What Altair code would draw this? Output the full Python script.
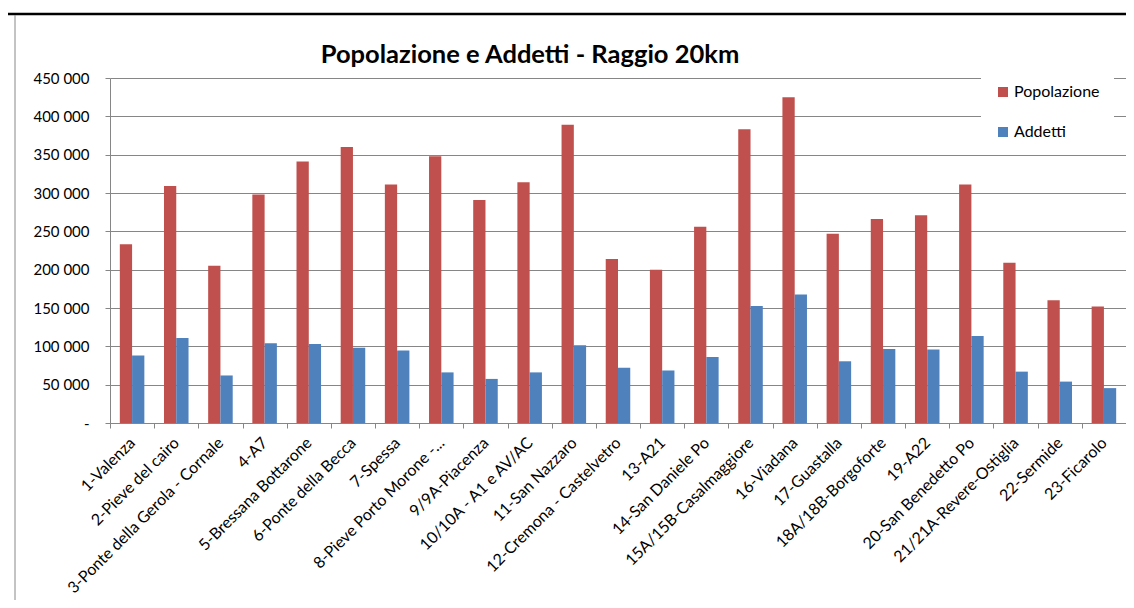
import altair as alt
import pandas as pd

categorie = [
    "1-Valenza", "2-Pieve del cairo", "3-Ponte della Gerola - Cornale", "4-A7",
    "5-Bressana Bottarone", "6-Ponte della Becca", "7-Spessa", "8-Pieve Porto Morone -...",
    "9/9A-Piacenza", "10/10A - A1 e AV/AC", "11-San Nazzaro", "12-Cremona - Castelvetro",
    "13-A21", "14-San Daniele Po", "15A/15B-Casalmaggiore", "16-Viadana", "17-Guastalla",
    "18A/18B-Borgoforte", "19-A22", "20-San Benedetto Po", "21/21A-Revere-Ostiglia",
    "22-Sermide", "23-Ficarolo",
]
popolazione = [233000, 309000, 205000, 298000, 341000, 360000, 311000, 348000,
               291000, 314000, 389000, 214000, 200000, 256000, 383000, 425000,
               247000, 266000, 271000, 311000, 209000, 160000, 152000]
addetti = [88000, 111000, 62000, 104000, 103000, 98000, 94500, 66000,
           57500, 66000, 101500, 72000, 68500, 86000, 152500, 167500,
           80500, 96500, 96000, 113500, 67000, 54000, 45500]
serie = ["Popolazione", "Addetti"]
colori = ["#C0504D", "#4F81BD"]
titolo = "Popolazione e Addetti - Raggio 20km"

rows = []
for c, p, a in zip(categorie, popolazione, addetti):
    rows.append({"cat": c, "serie": serie[0], "val": p})
    rows.append({"cat": c, "serie": serie[1], "val": a})
df = pd.DataFrame(rows)

NBSP = "\u00a0"
ylabel = ("datum.value == 0 ? '-" + NBSP * 3 + "' : "
          "replace(format(datum.value, ','), regexp(',', 'g'), ' ')")

bars = alt.Chart(df).mark_bar().encode(
    x=alt.X("cat:N", sort=categorie,
            scale=alt.Scale(paddingInner=0, paddingOuter=0),
            axis=alt.Axis(title=None, labelAngle=-45, labelAlign="right",
                          labelBaseline="middle", tickBand="extent",
                          tickSize=5, labelPadding=12, labelFontSize=16,
                          labelColor="#000000", grid=False, labelLimit=400)),
    xOffset=alt.XOffset("serie:N", sort=serie,
                        scale=alt.Scale(domain=serie, paddingOuter=0.8, paddingInner=0)),
    y=alt.Y("val:Q", scale=alt.Scale(domain=[0, 450000], nice=False),
            axis=alt.Axis(title=None, values=list(range(0, 450001, 50000)),
                          labelExpr=ylabel, tickSize=5, labelPadding=16,
                          labelFontSize=15, labelColor="#000000", grid=True)),
    color=alt.Color("serie:N", sort=serie,
                    scale=alt.Scale(domain=serie, range=colori),
                    legend=alt.Legend(title=None, orient="none", legendX=871, legendY=-8,
                                      fillColor="#FFFFFF", padding=14, rowPadding=24,
                                      symbolType="square", symbolSize=100,
                                      symbolStrokeWidth=0, labelFontSize=16,
                                      labelOffset=3, labelColor="#000000")),
)

frame = pd.DataFrame({"k": [0]})
title_mark = alt.Chart(frame).mark_text(
    text=titolo, font="Lato", fontSize=25.5, fontWeight="bold", color="#000000",
    align="center", baseline="alphabetic",
).encode(x=alt.value(420), y=alt.value(-15))
top_line = alt.Chart(frame).mark_rule(color="#000000", strokeWidth=2.5).encode(
    x=alt.value(-103), x2=alt.value(1016), y=alt.value(-64))
left_line = alt.Chart(frame).mark_rule(color="#888888", strokeWidth=1).encode(
    x=alt.value(-95), y=alt.value(-63), y2=alt.value(530))

chart = alt.layer(bars, title_mark, top_line, left_line).properties(
    width=1016, height=345,
    autosize=alt.AutoSizeParams(type="none"),
    padding={"left": 102, "top": 70, "right": 0, "bottom": 177},
).configure(font="Lato").configure_view(stroke=None).configure_axis(
    domainColor="#868686", tickColor="#868686", gridColor="#868686",
    labelFont="Lato", gridWidth=1, domainWidth=1,
).configure_legend(labelFont="Lato")

chart.save("out.html", embed_options={"renderer": "svg", "actions": False})
